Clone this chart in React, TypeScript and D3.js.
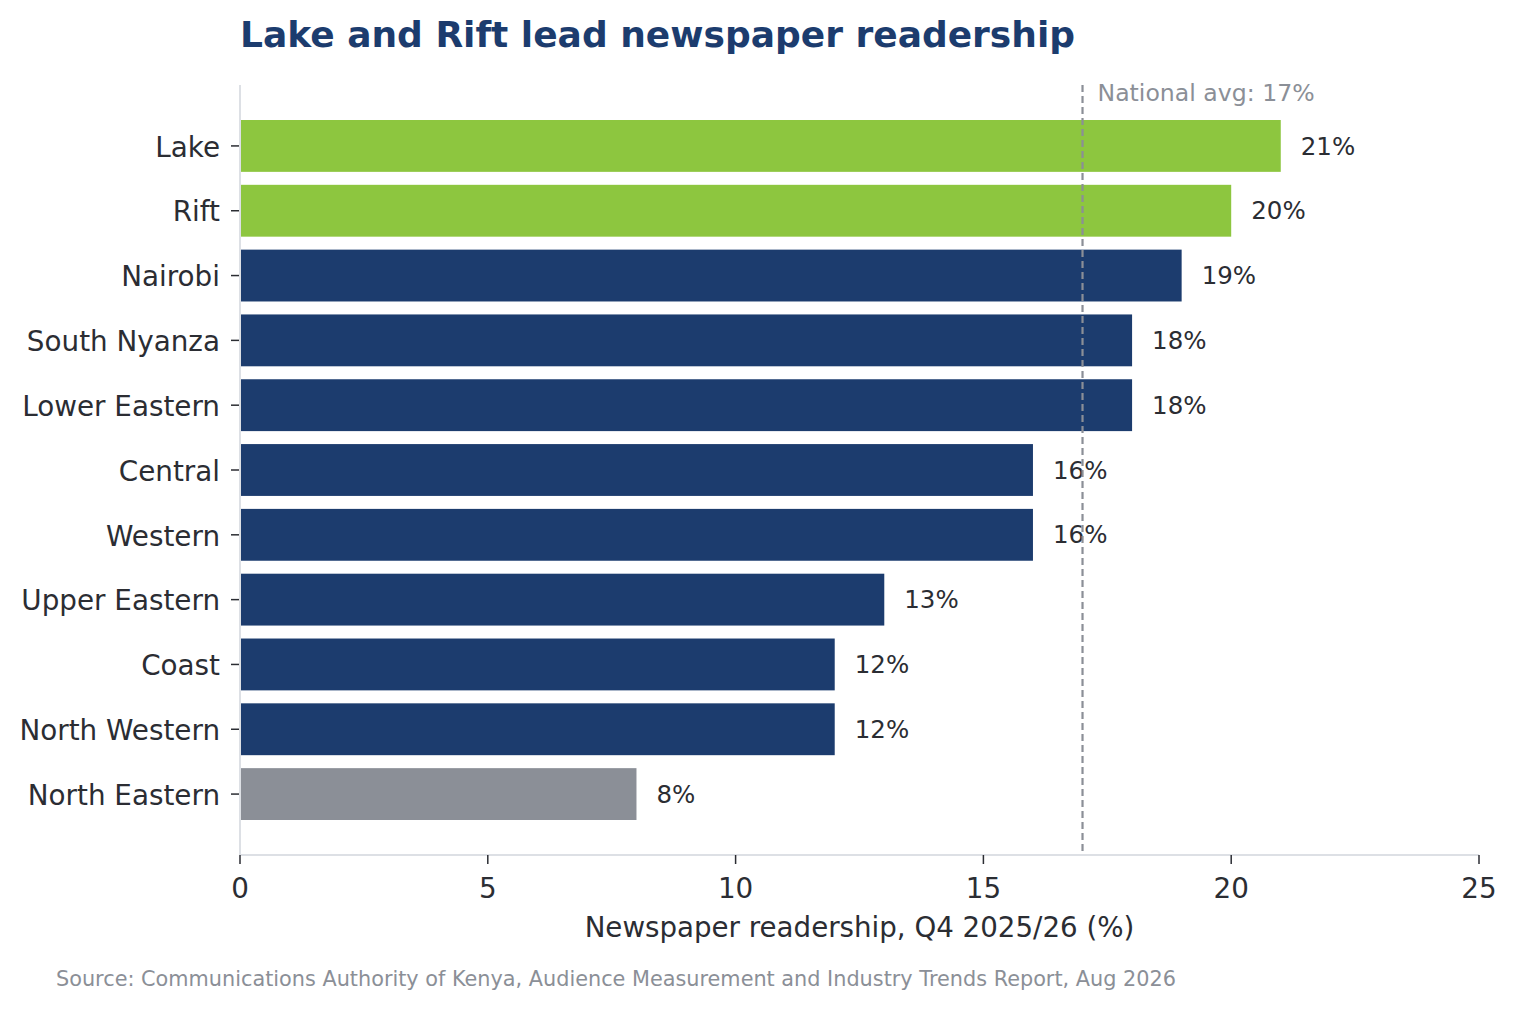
import React from "react";
import * as d3 from "d3";

const regions = ["Lake", "Rift", "Nairobi", "South Nyanza", "Lower Eastern", "Central", "Western", "Upper Eastern", "Coast", "North Western", "North Eastern"];
const values = [21, 20, 19, 18, 18, 16, 16, 13, 12, 12, 8];
const highlight = ["Lake", "Rift"];
const lowlight = ["North Eastern"];
const xTicks = [0, 5, 10, 15, 20, 25];
const nationalAvg = 17;

const W = 1517, H = 1009;
const left = 240, right = 1479, top = 85, bottom = 855;
const FONT = "DejaVu Sans, sans-serif";
const NAVY = "#1c3c6e", GREEN = "#8dc63f", GRAY = "#8b8f97", TEXT = "#2b2d33", SPINE = "#dde0e5";

export default function App() {
  const x = d3.scaleLinear().domain([0, 25]).range([left, right]);
  const y = d3.scaleLinear().domain([-0.94, regions.length - 1 + 0.94]).range([top, bottom]);
  const bh = y(0.4) - y(-0.4);
  const color = (r: string) => highlight.includes(r) ? GREEN : lowlight.includes(r) ? GRAY : NAVY;
  return (
    <svg width={W} height={H} style={{ position: "absolute", left: 0, top: 0 }} fontFamily={FONT}>
      <rect width={W} height={H} fill="#fff" />
      <text x={240} y={47} fontSize={36} fontWeight="bold" fill={NAVY}>Lake and Rift lead newspaper readership</text>
      {regions.map((r, i) => (
        <g key={r}>
          <rect x={x(0)} y={y(i) - bh / 2} width={x(values[i]) - x(0)} height={bh} fill={color(r)} />
          <text x={x(values[i]) + 20} y={y(i)} dy="0.35em" fontSize={24.5} fill={TEXT}>{values[i]}%</text>
          <line x1={left - 9} x2={left} y1={y(i)} y2={y(i)} stroke={TEXT} strokeWidth={1.5} />
          <text x={left - 20} y={y(i) + 1} dy="0.35em" textAnchor="end" fontSize={27.8} fill={TEXT}>{r}</text>
        </g>
      ))}
      <line x1={x(nationalAvg)} x2={x(nationalAvg)} y1={top} y2={bottom} stroke={GRAY} strokeWidth={2.2} strokeDasharray="7,4" />
      <text x={x(nationalAvg) + 15} y={101} fontSize={23.6} fill={GRAY}>National avg: {nationalAvg}%</text>
      <line x1={left} x2={left} y1={top} y2={bottom} stroke={SPINE} strokeWidth={2} />
      <line x1={left} x2={right} y1={bottom} y2={bottom} stroke={SPINE} strokeWidth={2} />
      {xTicks.map(t => (
        <g key={t}>
          <line x1={x(t)} x2={x(t)} y1={bottom} y2={bottom + 9} stroke={TEXT} strokeWidth={1.5} />
          <text x={x(t)} y={888} dy="0.35em" textAnchor="middle" fontSize={27.8} fill={TEXT}>{t}</text>
        </g>
      ))}
      <text x={(left + right) / 2} y={927} dy="0.35em" textAnchor="middle" fontSize={27.7} fill={TEXT}>Newspaper readership, Q4 2025/26 (%)</text>
      <text x={56} y={986} fontSize={20.8} fill={GRAY}>Source: Communications Authority of Kenya, Audience Measurement and Industry Trends Report, Aug 2026</text>
    </svg>
  );
}
